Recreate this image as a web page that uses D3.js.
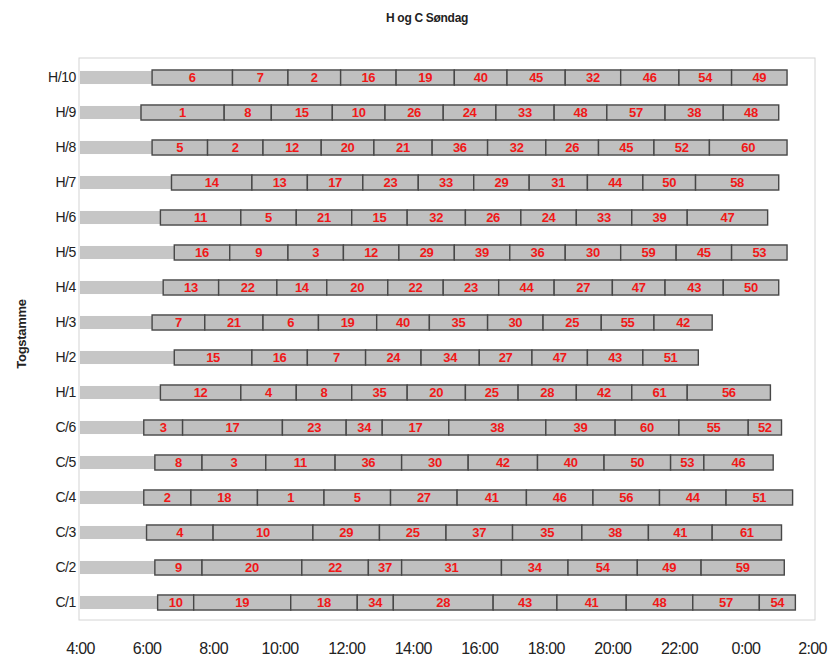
<!DOCTYPE html>
<html>
<head>
<meta charset="utf-8">
<script src="https://cdn.jsdelivr.net/npm/d3@7"></script>
<style>
    body { margin: 0; background: #fff; }
    svg { display: block; font-family: Arial, "Liberation Sans", sans-serif; }
</style>
</head>
<body>
<script>
// train sets, top to bottom
const rows = ["H/10", "H/9", "H/8", "H/7", "H/6", "H/5", "H/4", "H/3", "H/2", "H/1",
    "C/6", "C/5", "C/4", "C/3", "C/2", "C/1"];

// times where each train number starts (last one = end of day), hours past 24 = after midnight
const switchTimes = [
    ["6:10", "8:35", "10:15", "11:50", "13:30", "15:15", "16:50", "18:35", "20:15", "22:00", "23:35", "25:15"],
    ["5:50", "8:20", "9:45", "11:35", "13:10", "14:55", "16:30", "18:15", "19:50", "21:35", "23:20", "25:00"],
    ["6:10", "7:50", "9:30", "11:15", "12:50", "14:35", "16:15", "18:00", "19:35", "21:15", "22:55", "25:15"],
    ["6:45", "9:10", "10:50", "12:30", "14:10", "15:50", "17:30", "19:15", "20:55", "22:30", "25:00"],
    ["6:25", "8:50", "10:30", "12:10", "13:50", "15:35", "17:15", "18:55", "20:35", "22:15", "24:40"],
    ["6:50", "8:30", "10:15", "11:55", "13:35", "15:15", "16:55", "18:35", "20:15", "21:55", "23:35", "25:15"],
    ["6:30", "8:10", "9:55", "11:25", "13:15", "14:55", "16:35", "18:15", "20:00", "21:35", "23:20", "25:00"],
    ["6:10", "7:45", "9:30", "11:10", "12:55", "14:30", "16:15", "17:55", "19:40", "21:15", "23:00"],
    ["6:50", "9:10", "10:50", "12:35", "14:15", "16:00", "17:35", "19:15", "20:55", "22:35"],
    ["6:25", "8:50", "10:30", "12:10", "13:50", "15:35", "17:10", "18:55", "20:35", "22:15", "24:45"],
    ["5:55", "7:05", "10:05", "12:00", "13:05", "15:05", "18:00", "20:05", "22:00", "24:05", "25:05"],
    ["6:15", "7:40", "9:35", "11:40", "13:40", "15:40", "17:45", "19:45", "21:45", "22:45", "24:50"],
    ["5:55", "7:20", "9:20", "11:20", "13:20", "15:20", "17:25", "19:25", "21:25", "23:25", "25:25"],
    ["6:00", "8:00", "11:00", "13:00", "15:00", "17:00", "19:05", "21:05", "23:00", "25:05"],
    ["6:15", "7:40", "10:40", "12:40", "13:40", "16:40", "18:40", "20:45", "22:40", "25:10"],
    ["6:20", "7:25", "10:20", "12:20", "13:25", "16:25", "18:20", "20:25", "22:25", "24:25", "25:30"]
];

// train numbers driven in each slot
const trainNumbers = [
    [6, 7, 2, 16, 19, 40, 45, 32, 46, 54, 49],
    [1, 8, 15, 10, 26, 24, 33, 48, 57, 38, 48],
    [5, 2, 12, 20, 21, 36, 32, 26, 45, 52, 60],
    [14, 13, 17, 23, 33, 29, 31, 44, 50, 58],
    [11, 5, 21, 15, 32, 26, 24, 33, 39, 47],
    [16, 9, 3, 12, 29, 39, 36, 30, 59, 45, 53],
    [13, 22, 14, 20, 22, 23, 44, 27, 47, 43, 50],
    [7, 21, 6, 19, 40, 35, 30, 25, 55, 42],
    [15, 16, 7, 24, 34, 27, 47, 43, 51],
    [12, 4, 8, 35, 20, 25, 28, 42, 61, 56],
    [3, 17, 23, 34, 17, 38, 39, 60, 55, 52],
    [8, 3, 11, 36, 30, 42, 40, 50, 53, 46],
    [2, 18, 1, 5, 27, 41, 46, 56, 44, 51],
    [4, 10, 29, 25, 37, 35, 38, 41, 61],
    [9, 20, 22, 37, 31, 34, 54, 49, 59],
    [10, 19, 18, 34, 28, 43, 41, 48, 57, 54]
];

const tickHours = [4, 6, 8, 10, 12, 14, 16, 18, 20, 22, 24, 26];
const tickLabels = ["4:00", "6:00", "8:00", "10:00", "12:00", "14:00", "16:00", "18:00", "20:00", "22:00", "0:00", "2:00"];

const width = 838;
const height = 669;

function toHours(s) {
    const [h, m] = s.split(":").map(Number);
    return h + m / 60;
}

// flatten into segments
const segments = [];
const leads = [];
rows.forEach((r, i) => {
    const t = switchTimes[i].map(toHours);
    leads.push({ row: r, end: t[0] });
    trainNumbers[i].forEach((n, j) => {
        segments.push({ row: r, train: n, start: t[j], end: t[j + 1] });
    });
});

const x = d3.scaleLinear().domain([4, 26]).range([80, 812]);
const y = d3.scaleBand().domain(rows).range([60, 620]).paddingInner(0.57).paddingOuter(0.285);

const svg = d3.create("svg")
    .attr("width", width)
    .attr("height", height);

// plot area frame
svg.append("rect")
    .attr("x", x(4) - 1)
    .attr("y", 58)
    .attr("width", x(26) - x(4) + 4)
    .attr("height", 562)
    .attr("fill", "none")
    .attr("stroke", "#d4d4d4");

svg.append("text")
    .attr("x", 427)
    .attr("y", 22)
    .attr("text-anchor", "middle")
    .attr("font-size", "12px")
    .attr("font-weight", "bold")
    .attr("letter-spacing", "-0.3px")
    .attr("fill", "#222")
    .text("H og C Søndag");

svg.append("text")
    .attr("transform", "translate(26, 334) rotate(-90)")
    .attr("text-anchor", "middle")
    .attr("font-size", "13px")
    .attr("font-weight", "bold")
    .attr("letter-spacing", "-0.3px")
    .attr("fill", "#222")
    .text("Togstamme");

// lead-in bars from 4:00 to first departure
svg.append("g")
    .selectAll("rect")
    .data(leads)
    .join("rect")
    .attr("x", x(4))
    .attr("y", d => y(d.row) + 1)
    .attr("width", d => x(d.end) - x(4))
    .attr("height", y.bandwidth() - 2)
    .attr("fill", "#c6c6c6");

svg.append("g")
    .selectAll("rect")
    .data(segments)
    .join("rect")
    .attr("x", d => x(d.start))
    .attr("y", d => y(d.row))
    .attr("width", d => x(d.end) - x(d.start))
    .attr("height", y.bandwidth())
    .attr("fill", "#c0c0c0")
    .attr("stroke", "#474747")
    .attr("stroke-width", 1.4);

svg.append("g")
    .selectAll("text")
    .data(segments)
    .join("text")
    .attr("x", d => (x(d.start) + x(d.end)) / 2)
    .attr("y", d => y(d.row) + y.bandwidth() / 2)
    .attr("dy", "0.36em")
    .attr("text-anchor", "middle")
    .attr("font-size", "13px")
    .attr("font-weight", "bold")
    .attr("letter-spacing", "-0.3px")
    .attr("fill", "#f01818")
    .text(d => d.train);

const xAxis = svg.append("g")
    .attr("transform", "translate(0,620)")
    .call(d3.axisBottom(x).tickValues(tickHours).tickFormat((d, i) => tickLabels[i]).tickSize(0).tickPadding(23));
xAxis.select(".domain").remove();
xAxis.selectAll("text")
    .attr("font-size", "16px")
    .attr("letter-spacing", "-0.6px")
    .attr("font-family", "Arial, 'Liberation Sans', sans-serif")
    .attr("fill", "#222");

const yAxis = svg.append("g")
    .attr("transform", "translate(76,0)")
    .call(d3.axisLeft(y).tickSize(0).tickPadding(0));
yAxis.select(".domain").remove();
yAxis.selectAll("text")
    .attr("font-size", "14px")
    .attr("letter-spacing", "-0.4px")
    .attr("font-family", "Arial, 'Liberation Sans', sans-serif")
    .attr("fill", "#222");

document.body.appendChild(svg.node());
</script>
</body>
</html>
